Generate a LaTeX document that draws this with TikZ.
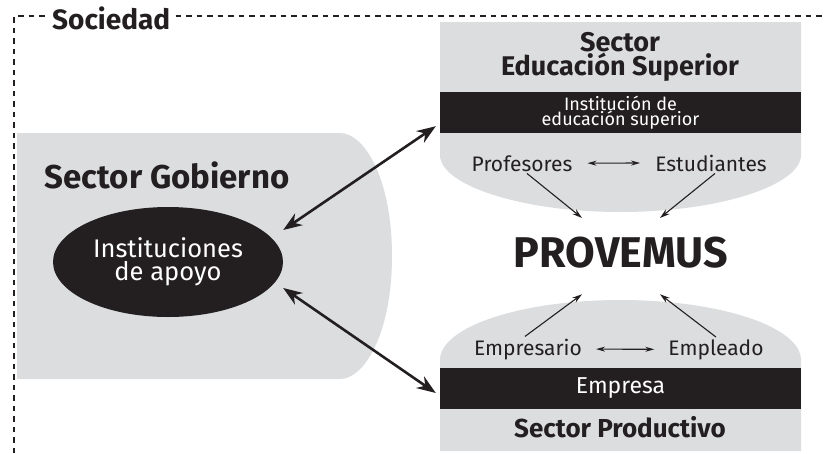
\documentclass[tikz,border=0pt]{standalone}
\usepackage{fontspec}
\setmainfont{Fira Sans}
\usetikzlibrary{arrows.meta,shapes.geometric}

\definecolor{fondo}{HTML}{DCDDDF}
\definecolor{oscuro}{HTML}{231F20}

\tikzset{
  banda/.style={fill=oscuro, text=white, minimum width=361pt, minimum height=41pt, inner sep=0pt, align=center},
  titulo/.style={font=\bfseries\fontsize{27}{22}\selectfont, text=oscuro, align=center, inner sep=0pt},
  actor/.style={font=\fontsize{21}{24}\selectfont, text=oscuro, inner sep=2pt},
  flecha/.style={line width=1.1pt, draw=oscuro, -{Stealth[length=10pt,width=6pt]}},
  doble/.style={line width=1.1pt, draw=oscuro, {Stealth[length=9pt,width=5pt]}-{Stealth[length=9pt,width=5pt]}},
  enlace/.style={line width=2.6pt, draw=oscuro, {Stealth[length=19pt,width=14pt]}-{Stealth[length=19pt,width=14pt]}},
}

\begin{document}
\begin{tikzpicture}[x=1pt,y=-1pt]
  \useasboundingbox (0,0) rectangle (824,453);

  % marco de la sociedad
  \draw[dash pattern=on 5.5pt off 5pt, line width=1.8pt, oscuro] (14,453) -- (14,16) -- (824,16);
  \node[fill=white, font=\bfseries\fontsize{28}{28}\selectfont, text=oscuro, inner sep=5pt, anchor=base west] (sociedad) at (47,29) {Sociedad};

  % fondos grises
  \fill[fondo] (17,133) -- (340,133) .. controls (365,133) and (392,180) .. (392,256)
    .. controls (392,332) and (365,379) .. (340,379) -- (17,379) -- cycle;
  \fill[fondo] (440,22) -- (801,22) -- (801,155) .. controls (801,185) and (720.2,212) .. (620.5,212)
    .. controls (520.8,212) and (440,185) .. (440,155) -- cycle;
  \fill[fondo] (440,451) -- (440,360) .. controls (440,326.9) and (520.8,300) .. (620.5,300)
    .. controls (720.2,300) and (801,326.9) .. (801,360) -- (801,451) -- cycle;

  % sector gobierno
  \node[titulo, font=\bfseries\fontsize{33}{33}\selectfont, anchor=base] (gobierno) at (167,188) {Sector Gobierno};
  \node[ellipse, fill=oscuro, minimum width=230pt, minimum height=110pt, text=white, align=center,
        font=\fontsize{25.5}{23}\selectfont, inner sep=0pt] (apoyo) at (168,262) {Instituciones\\de apoyo};

  % sector educacion superior
  \node[titulo] (ses) at (620,57) {Sector\\Educación Superior};
  \node[banda, font=\fontsize{18}{15}\selectfont] (ies) at (620.5,112.5) {Institución de\\educación superior};
  \node[actor, anchor=base] (prof) at (522,171) {Profesores};
  \node[actor, anchor=base] (est) at (711,171) {Estudiantes};
  \draw[doble, shorten <=13pt, shorten >=13pt] (prof.east) -- (est.west);

  % centro
  \node[font=\bfseries\fontsize{43}{43}\selectfont, text=oscuro, anchor=base] (provemus) at (621,267) {PROVEMUS};
  \draw[flecha] ([xshift=5pt]prof.south) -- ([shift={(-39pt,15pt)}]provemus.north);
  \draw[flecha] ([xshift=4pt]est.south) -- ([shift={(39pt,15pt)}]provemus.north);

  % sector productivo
  \node[banda, font=\fontsize{23}{24}\selectfont] (empresa) at (620.5,388) {Empresa};
  \node[titulo, font=\bfseries\fontsize{26}{26}\selectfont, anchor=base] (sprod) at (620,437) {Sector Productivo};
  \node[actor, anchor=base] (emp) at (528,355) {Empresario};
  \node[actor, anchor=base] (empl) at (716,355) {Empleado};
  \draw[doble, shorten <=12pt, shorten >=12pt] (emp.east) -- (empl.west);
  \draw[flecha] ([xshift=-3pt]emp.north) -- ([shift={(-39pt,-23pt)}]provemus.south);
  \draw[flecha] (empl.north) -- ([shift={(39pt,-23pt)}]provemus.south);

  % enlaces con el gobierno
  \draw[enlace] ([yshift=32pt]apoyo.east) -- ([shift={(-4pt,7pt)}]ies.south west);
  \draw[enlace] ([yshift=-26pt]apoyo.east) -- ([shift={(-4pt,-5pt)}]empresa.west);
\end{tikzpicture}
\end{document}
